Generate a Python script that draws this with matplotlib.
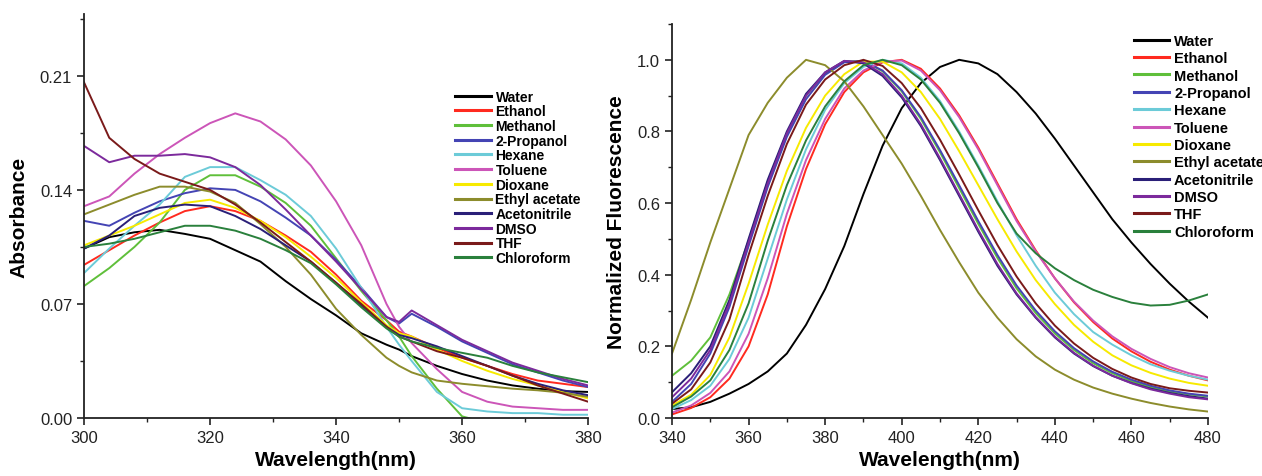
import matplotlib
matplotlib.use("Agg")
import matplotlib.pyplot as plt
from matplotlib.ticker import MultipleLocator, FormatStrFormatter

plt.rcParams['font.family'] = ['Liberation Sans', 'DejaVu Sans']

solvents = ["Water", "Ethanol", "Methanol", "2-Propanol", "Hexane", "Toluene",
            "Dioxane", "Ethyl acetate", "Acetonitrile", "DMSO", "THF", "Chloroform"]
colors = ["#000000", "#ff2a1f", "#5fbf3a", "#4444b4", "#6ccbd8", "#cc55b8",
          "#f7ea00", "#8c8c2c", "#2a1f78", "#7c2a9c", "#7a1a1a", "#2a803c"]

# ---- absorption (left) ----
wl_abs = [300, 304, 308, 312, 316, 320, 324, 328, 332, 336, 340, 344, 348,
          350, 352, 356, 360, 364, 368, 372, 376, 380]
abs_water = [0.104, 0.111, 0.114, 0.1155, 0.113, 0.110, 0.103, 0.096, 0.084, 0.073, 0.063,
             0.052, 0.045, 0.042, 0.038, 0.032, 0.027, 0.023, 0.020, 0.018, 0.0165, 0.016]
abs_ethanol = [0.094, 0.103, 0.112, 0.120, 0.127, 0.130, 0.127, 0.121, 0.112, 0.102, 0.088,
               0.072, 0.060, 0.053, 0.050, 0.043, 0.037, 0.032, 0.027, 0.023, 0.021, 0.019]
abs_methanol = [0.081, 0.092, 0.105, 0.120, 0.140, 0.149, 0.149, 0.142, 0.132, 0.118, 0.098,
                0.078, 0.060, 0.050, 0.038, 0.018, 0.001, -0.003, -0.003, -0.003, -0.003, -0.003]
abs_propanol = [0.121, 0.118, 0.126, 0.133, 0.138, 0.141, 0.140, 0.133, 0.123, 0.112, 0.097,
                0.080, 0.062, 0.058, 0.064, 0.056, 0.047, 0.040, 0.033, 0.028, 0.023, 0.019]
abs_hexane = [0.089, 0.104, 0.118, 0.131, 0.148, 0.154, 0.154, 0.146, 0.137, 0.124, 0.104,
              0.080, 0.056, 0.045, 0.035, 0.016, 0.006, 0.004, 0.003, 0.003, 0.002, 0.002]
abs_toluene = [0.130, 0.136, 0.150, 0.162, 0.172, 0.181, 0.187, 0.182, 0.171, 0.155, 0.133,
               0.106, 0.070, 0.056, 0.046, 0.030, 0.016, 0.010, 0.007, 0.006, 0.005, 0.005]
abs_dioxane = [0.106, 0.112, 0.118, 0.125, 0.132, 0.134, 0.129, 0.121, 0.111, 0.099, 0.086,
               0.071, 0.057, 0.052, 0.050, 0.042, 0.035, 0.029, 0.024, 0.020, 0.016, 0.012]
abs_ethylacetate = [0.125, 0.131, 0.137, 0.142, 0.142, 0.139, 0.132, 0.119, 0.105, 0.088, 0.067,
                    0.051, 0.037, 0.032, 0.028, 0.023, 0.021, 0.0195, 0.018, 0.017, 0.0155, 0.013]
abs_acetonitrile = [0.104, 0.112, 0.124, 0.129, 0.131, 0.130, 0.124, 0.116, 0.106, 0.096, 0.083,
                    0.069, 0.056, 0.051, 0.049, 0.044, 0.038, 0.032, 0.026, 0.021, 0.017, 0.014]
abs_dmso = [0.167, 0.157, 0.161, 0.161, 0.162, 0.160, 0.154, 0.143, 0.128, 0.112, 0.096,
            0.079, 0.062, 0.059, 0.066, 0.057, 0.048, 0.041, 0.034, 0.029, 0.024, 0.020]
abs_thf = [0.206, 0.172, 0.159, 0.150, 0.145, 0.140, 0.131, 0.120, 0.108, 0.096, 0.083,
           0.070, 0.056, 0.050, 0.047, 0.041, 0.037, 0.032, 0.026, 0.020, 0.015, 0.010]
abs_chloroform = [0.105, 0.107, 0.110, 0.114, 0.118, 0.118, 0.115, 0.110, 0.103, 0.095, 0.082,
                  0.068, 0.055, 0.050, 0.047, 0.043, 0.040, 0.037, 0.032, 0.028, 0.025, 0.022]

# ---- normalized fluorescence (right) ----
wl_fl = list(range(340, 485, 5))
fl_water = [0.025, 0.030, 0.045, 0.068, 0.095, 0.130, 0.180, 0.260, 0.360, 0.480, 0.625, 0.760,
            0.865, 0.935, 0.980, 1.000, 0.990, 0.960, 0.910, 0.850, 0.780, 0.705, 0.630, 0.555,
            0.490, 0.430, 0.375, 0.325, 0.280]
fl_ethanol = [0.010, 0.028, 0.058, 0.110, 0.200, 0.345, 0.535, 0.695, 0.820, 0.910, 0.965, 0.993,
              1.000, 0.975, 0.920, 0.845, 0.755, 0.655, 0.555, 0.468, 0.390, 0.323, 0.268, 0.222,
              0.186, 0.157, 0.135, 0.118, 0.105]
fl_methanol = [0.118, 0.160, 0.225, 0.345, 0.495, 0.660, 0.795, 0.900, 0.962, 0.995, 0.997, 0.968,
               0.912, 0.835, 0.742, 0.642, 0.542, 0.447, 0.362, 0.293, 0.236, 0.190, 0.153, 0.125,
               0.103, 0.086, 0.074, 0.066, 0.060]
fl_propanol = [0.045, 0.095, 0.180, 0.310, 0.480, 0.645, 0.785, 0.890, 0.958, 0.993, 0.997, 0.970,
               0.915, 0.840, 0.748, 0.650, 0.550, 0.455, 0.370, 0.300, 0.242, 0.195, 0.158, 0.129,
               0.107, 0.090, 0.077, 0.068, 0.062]
fl_hexane = [0.025, 0.050, 0.090, 0.165, 0.280, 0.445, 0.610, 0.750, 0.860, 0.935, 0.980, 1.000,
             0.990, 0.950, 0.885, 0.800, 0.705, 0.605, 0.510, 0.425, 0.350, 0.290, 0.240, 0.205,
             0.175, 0.150, 0.132, 0.118, 0.107]
fl_toluene = [0.015, 0.035, 0.070, 0.130, 0.235, 0.390, 0.570, 0.720, 0.835, 0.920, 0.970, 0.995,
              0.998, 0.970, 0.915, 0.840, 0.750, 0.650, 0.550, 0.465, 0.390, 0.325, 0.272, 0.228,
              0.193, 0.165, 0.142, 0.125, 0.113]
fl_dioxane = [0.035, 0.065, 0.120, 0.225, 0.375, 0.540, 0.690, 0.810, 0.900, 0.960, 0.995, 0.995,
              0.965, 0.910, 0.835, 0.745, 0.650, 0.555, 0.465, 0.385, 0.318, 0.260, 0.213, 0.175,
              0.147, 0.126, 0.110, 0.098, 0.090]
fl_ethylacetate = [0.180, 0.330, 0.490, 0.640, 0.790, 0.880, 0.950, 1.000, 0.985, 0.940, 0.870,
                   0.790, 0.710, 0.620, 0.525, 0.435, 0.350, 0.280, 0.220, 0.172, 0.135, 0.107,
                   0.085, 0.068, 0.054, 0.042, 0.032, 0.024, 0.018]
fl_acetonitrile = [0.072, 0.125, 0.200, 0.330, 0.500, 0.665, 0.800, 0.905, 0.965, 0.997, 0.990,
                   0.955, 0.895, 0.815, 0.720, 0.620, 0.520, 0.425, 0.345, 0.280, 0.225, 0.180,
                   0.145, 0.118, 0.098, 0.082, 0.070, 0.061, 0.054]
fl_dmso = [0.058, 0.110, 0.190, 0.320, 0.490, 0.655, 0.795, 0.900, 0.965, 0.997, 0.993, 0.960,
           0.900, 0.820, 0.725, 0.625, 0.525, 0.430, 0.348, 0.282, 0.227, 0.182, 0.146, 0.118,
           0.097, 0.080, 0.068, 0.058, 0.052]
fl_thf = [0.040, 0.080, 0.155, 0.275, 0.455, 0.620, 0.765, 0.875, 0.945, 0.985, 1.000, 0.983,
          0.935, 0.865, 0.777, 0.680, 0.580, 0.483, 0.395, 0.320, 0.258, 0.208, 0.168, 0.137,
          0.113, 0.095, 0.083, 0.076, 0.071]
fl_chloroform = [0.030, 0.060, 0.105, 0.190, 0.320, 0.495, 0.650, 0.775, 0.870, 0.940, 0.985,
                 1.000, 0.985, 0.945, 0.880, 0.795, 0.700, 0.600, 0.515, 0.460, 0.418, 0.385,
                 0.358, 0.338, 0.322, 0.314, 0.316, 0.328, 0.345]

abs_series = [abs_water, abs_ethanol, abs_methanol, abs_propanol, abs_hexane, abs_toluene,
              abs_dioxane, abs_ethylacetate, abs_acetonitrile, abs_dmso, abs_thf, abs_chloroform]
fl_series = [fl_water, fl_ethanol, fl_methanol, fl_propanol, fl_hexane, fl_toluene,
             fl_dioxane, fl_ethylacetate, fl_acetonitrile, fl_dmso, fl_thf, fl_chloroform]

fig = plt.figure(figsize=(12.62, 4.77), dpi=100)
ax1 = fig.add_axes([0.0666, 0.1216, 0.3994, 0.847])
ax2 = fig.add_axes([0.5325, 0.1216, 0.4247, 0.826])

for name, c, y in zip(solvents, colors, abs_series):
    ax1.plot(wl_abs, y, color=c, lw=1.4, label=name)
for name, c, y in zip(solvents, colors, fl_series):
    ax2.plot(wl_fl, y, color=c, lw=1.4, label=name)

ax1.set_xlim(300, 380)
ax1.set_ylim(0, 0.248)
ax1.xaxis.set_major_locator(MultipleLocator(20))
ax1.xaxis.set_minor_locator(MultipleLocator(10))
ax1.yaxis.set_major_locator(MultipleLocator(0.07))
ax1.yaxis.set_minor_locator(MultipleLocator(0.035))
ax1.yaxis.set_major_formatter(FormatStrFormatter('%.2f'))
ax1.set_xlabel("Wavelength(nm)", fontsize=15, fontweight='bold', labelpad=4)
ax1.set_ylabel("Absorbance", fontsize=15, fontweight='bold', labelpad=8)

ax2.set_xlim(340, 480)
ax2.set_ylim(0, 1.1)
ax2.xaxis.set_major_locator(MultipleLocator(20))
ax2.xaxis.set_minor_locator(MultipleLocator(10))
ax2.yaxis.set_major_locator(MultipleLocator(0.2))
ax2.yaxis.set_minor_locator(MultipleLocator(0.1))
ax2.yaxis.set_major_formatter(FormatStrFormatter('%.1f'))
ax2.set_xlabel("Wavelength(nm)", fontsize=15, fontweight='bold', labelpad=4)
ax2.set_ylabel("Normalized Fluorescence", fontsize=15, fontweight='bold', labelpad=8)

for ax in (ax1, ax2):
    for s in ('top', 'right'):
        ax.spines[s].set_visible(False)
    for s in ('left', 'bottom'):
        ax.spines[s].set_linewidth(1.3)
        ax.spines[s].set_color('#222222')
    ax.tick_params(which='major', direction='out', length=5, width=1.2, labelsize=12,
                   colors='#222222')
    ax.tick_params(which='minor', direction='out', length=3, width=1.0, colors='#222222')

leg1 = ax1.legend(loc='upper left', bbox_to_anchor=(0.735, 0.813), frameon=False,
                  fontsize=10, handlelength=2.6, handletextpad=0.35, labelspacing=0.05,
                  borderaxespad=0, borderpad=0)
leg2 = ax2.legend(loc='upper left', bbox_to_anchor=(0.862, 0.975), frameon=False,
                  fontsize=10.5, handlelength=2.4, handletextpad=0.35, labelspacing=0.23,
                  borderaxespad=0, borderpad=0)
for leg in (leg1, leg2):
    for t in leg.get_texts():
        t.set_fontweight('bold')
    for h in leg.get_lines():
        h.set_linewidth(2.2)

fig.savefig("out.png", dpi=100)
